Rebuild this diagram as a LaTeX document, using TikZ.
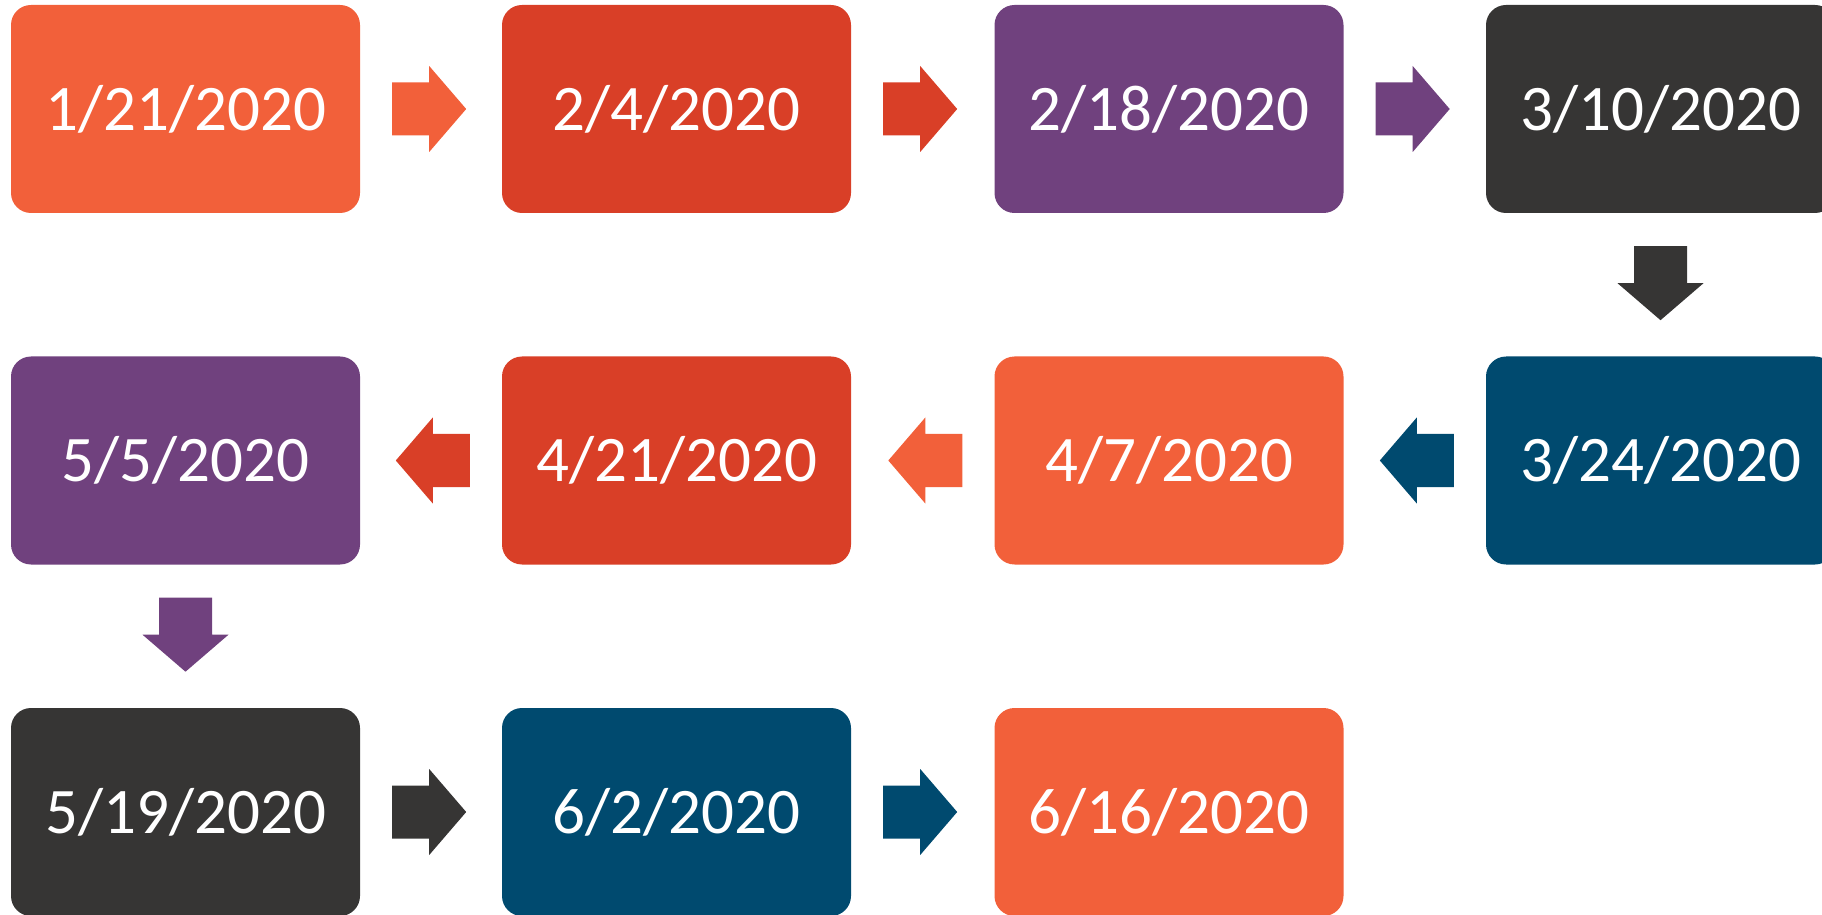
\documentclass[tikz,border=0pt]{standalone}
\usepackage{fontspec}
\setmainfont{Carlito}
\usetikzlibrary{calc}

\definecolor{dorange}{HTML}{F2603A}
\definecolor{dred}{HTML}{D93F27}
\definecolor{dpurple}{HTML}{70417E}
\definecolor{ddark}{HTML}{363534}
\definecolor{dblue}{HTML}{004A6F}

\tikzset{
    datebox/.style={rounded corners=20pt, minimum width=349pt, minimum height=208pt,
        inner sep=0pt, text=white, font=\fontsize{65}{78}\selectfont},
}

\begin{document}
\begin{tikzpicture}[x=1pt,y=1pt]
    \useasboundingbox (0,0) rectangle (1822,914);
    \clip (0,0) rectangle (1822,914);
    % row 1
    \node[datebox, fill=dorange] (d1) at (185.5,805) {1/21/2020};
    \node[datebox, fill=dred] (d2) at (676.5,805) {2/4/2020};
    \node[datebox, fill=dpurple] (d3) at (1169,805) {2/18/2020};
    \node[datebox, fill=ddark] (d4) at (1660.5,805) {3/10/2020};
    % row 2
    \node[datebox, fill=dblue] (d5) at (1660.5,453.5) {3/24/2020};
    \node[datebox, fill=dorange] (d6) at (1169,453.5) {4/7/2020};
    \node[datebox, fill=dred] (d7) at (676.5,453.5) {4/21/2020};
    \node[datebox, fill=dpurple] (d8) at (185.5,453.5) {5/5/2020};
    % row 3
    \node[datebox, fill=ddark] (d9) at (185.5,102) {5/19/2020};
    \node[datebox, fill=dblue] (d10) at (676.5,102) {6/2/2020};
    \node[datebox, fill=dorange] (d11) at (1169,102) {6/16/2020};
    % arrows
    \fill[dorange] ($(d1.east)+(32,0)$) ++(0,26.5) -- ++(37,0) -- ++(0,16.5) -- ++(37,-43) -- ++(-37,-43) -- ++(0,16.5) -- ++(-37,0) -- cycle;
    \fill[dred] ($(d2.east)+(32,0)$) ++(0,26.5) -- ++(37,0) -- ++(0,16.5) -- ++(37,-43) -- ++(-37,-43) -- ++(0,16.5) -- ++(-37,0) -- cycle;
    \fill[dpurple] ($(d3.east)+(32,0)$) ++(0,26.5) -- ++(37,0) -- ++(0,16.5) -- ++(37,-43) -- ++(-37,-43) -- ++(0,16.5) -- ++(-37,0) -- cycle;
    \fill[ddark] ($(d4.south)+(0,-33)$) ++(-26.5,0) -- ++(53,0) -- ++(0,-37) -- ++(16.5,0) -- ++(-43,-37) -- ++(-43,37) -- ++(16.5,0) -- cycle;
    \fill[dblue] ($(d5.west)+(-32,0)$) ++(0,26.5) -- ++(-37,0) -- ++(0,16.5) -- ++(-37,-43) -- ++(37,-43) -- ++(0,16.5) -- ++(37,0) -- cycle;
    \fill[dorange] ($(d6.west)+(-32,0)$) ++(0,26.5) -- ++(-37,0) -- ++(0,16.5) -- ++(-37,-43) -- ++(37,-43) -- ++(0,16.5) -- ++(37,0) -- cycle;
    \fill[dred] ($(d7.west)+(-32,0)$) ++(0,26.5) -- ++(-37,0) -- ++(0,16.5) -- ++(-37,-43) -- ++(37,-43) -- ++(0,16.5) -- ++(37,0) -- cycle;
    \fill[dpurple] ($(d8.south)+(0,-33)$) ++(-26.5,0) -- ++(53,0) -- ++(0,-37) -- ++(16.5,0) -- ++(-43,-37) -- ++(-43,37) -- ++(16.5,0) -- cycle;
    \fill[ddark] ($(d9.east)+(32,0)$) ++(0,26.5) -- ++(37,0) -- ++(0,16.5) -- ++(37,-43) -- ++(-37,-43) -- ++(0,16.5) -- ++(-37,0) -- cycle;
    \fill[dblue] ($(d10.east)+(32,0)$) ++(0,26.5) -- ++(37,0) -- ++(0,16.5) -- ++(37,-43) -- ++(-37,-43) -- ++(0,16.5) -- ++(-37,0) -- cycle;
\end{tikzpicture}
\end{document}
